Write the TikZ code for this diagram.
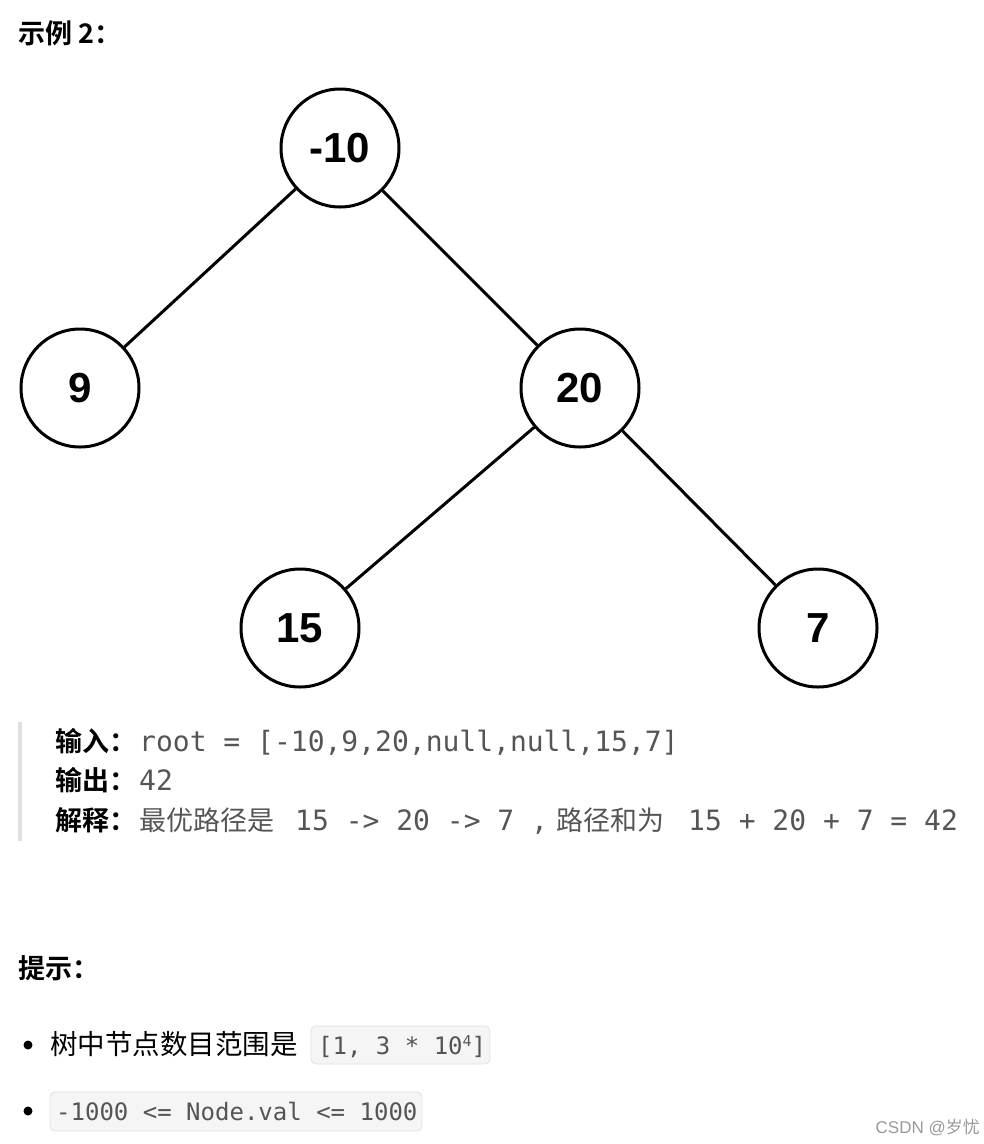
\documentclass[tikz,border=0pt]{standalone}
\usepackage{fontspec}
\setmainfont{Liberation Sans}
\newfontfamily\cjk{Noto Sans CJK SC}
\newfontfamily\cjkb{Noto Sans CJK SC Bold}
\setmonofont{DejaVu Sans Mono}
\definecolor{txtgray}{HTML}{555555}
\begin{document}
\begin{tikzpicture}[x=1pt,y=-1pt,
  tn/.style={circle,draw,line width=3pt,minimum size=118pt,inner sep=0pt,font=\fontsize{42}{42}\selectfont\bfseries},
  edge/.style={line width=3pt},
  lab/.style={anchor=base west,inner sep=0pt},
  code/.style={anchor=base west,inner sep=0pt,text=txtgray,font=\fontsize{28}{30}\selectfont\ttfamily},
  cbox/.style={draw=black!12,fill=black!4,rounded corners=5pt,line width=0.8pt}]
\useasboundingbox (0,0) rectangle (984,1144);
\node[lab,font=\fontsize{27}{28}\selectfont\cjkb] (t1) at (18,43) {示例 2：};
\node[tn] (r) at (340,148) {-10};
\node[tn] (a) at (80,388) {9};
\node[tn] (b) at (580,388) {20};
\node[tn] (c) at (300,628) {15};
\node[tn] (d) at (818,628) {7};
\draw[edge] (r) -- (a);
\draw[edge] (r) -- (b);
\draw[edge] (b) -- (c);
\draw[edge] (b) -- (d);
\fill[black!12] (18,722) rectangle (22,841);
\node[lab,font=\fontsize{27}{28}\selectfont\cjkb] (i1) at (55,751) {输入：};
\node[code] (i2) at (139,751) {root = [-10,9,20,null,null,15,7]};
\node[lab,font=\fontsize{27}{28}\selectfont\cjkb] (o1) at (55,790) {输出：};
\node[code] (o2) at (139,790) {42};
\node[lab,font=\fontsize{27}{28}\selectfont\cjkb] (e1) at (55,830) {解释：};
\node[lab,text=txtgray,font=\fontsize{27}{28}\selectfont\cjk] (e2) at (139,830) {最优路径是};
\node[code] (e3) at (295,830) {15 -> 20 -> 7 ,};
\node[lab,text=txtgray,font=\fontsize{27}{28}\selectfont\cjk] (e4) at (556,830) {路径和为};
\node[code] (e5) at (688,830) {15 + 20 + 7 = 42};
\node[lab,font=\fontsize{27}{28}\selectfont\cjkb] (h) at (18,978) {提示：};
\fill (28,1045) circle (4.5);
\node[lab,font=\fontsize{27.5}{28}\selectfont\cjk] (b1) at (50,1054) {树中节点数目范围是};
\draw[cbox] (311,1026) rectangle (490,1064);
\node[code,font=\fontsize{24}{26}\selectfont\ttfamily] (b1c) at (318,1054) {[1, 3 * 10\raisebox{8pt}{\fontsize{15}{15}\selectfont 4}]};
\fill (28,1111) circle (4.5);
\draw[cbox] (50,1092) rectangle (422,1131);
\node[code,font=\fontsize{24}{26}\selectfont\ttfamily] (b2c) at (56,1120) {-1000 <= Node.val <= 1000};
\node[anchor=base east,inner sep=0pt,text=black!40,font=\fontsize{17}{18}\selectfont] (w) at (980,1133) {CSDN @\cjk 岁忧};
\end{tikzpicture}
\end{document}
